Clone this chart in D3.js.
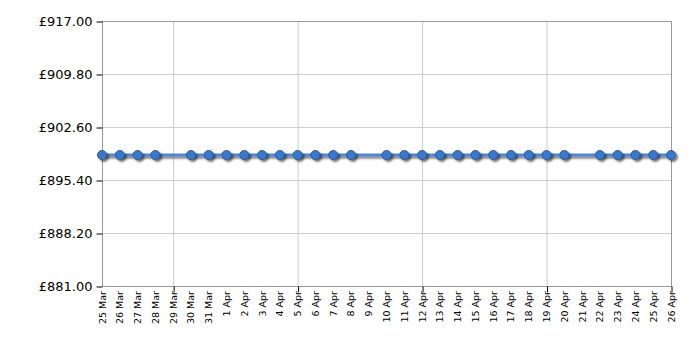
<!DOCTYPE html>
<html>
<head>
<meta charset="utf-8">
<script src="https://cdn.jsdelivr.net/npm/d3@7"></script>
<style>
  body { margin: 0; background: #fff; }
  svg { display: block; font-family: "DejaVu Sans", Verdana, sans-serif; }
</style>
</head>
<body>
<div id="chart"></div>
<script>
// price history, one entry per day (null = no reading that day)
const dates = ["2024-03-25","2024-03-26","2024-03-27","2024-03-28","2024-03-29","2024-03-30","2024-03-31",
  "2024-04-01","2024-04-02","2024-04-03","2024-04-04","2024-04-05","2024-04-06","2024-04-07","2024-04-08",
  "2024-04-09","2024-04-10","2024-04-11","2024-04-12","2024-04-13","2024-04-14","2024-04-15","2024-04-16",
  "2024-04-17","2024-04-18","2024-04-19","2024-04-20","2024-04-21","2024-04-22","2024-04-23","2024-04-24",
  "2024-04-25","2024-04-26"];
const prices = [898.8, 898.8, 898.8, 898.8, null, 898.8, 898.8,
  898.8, 898.8, 898.8, 898.8, 898.8, 898.8, 898.8, 898.8,
  null, 898.8, 898.8, 898.8, 898.8, 898.8, 898.8, 898.8,
  898.8, 898.8, 898.8, 898.8, null, 898.8, 898.8, 898.8,
  898.8, 898.8];
const yTicks = [881, 888.2, 895.4, 902.6, 909.8, 917];

const width = 700, height = 350;
const margin = {top: 21, right: 29, bottom: 64, left: 102};

const parse = d3.timeParse("%Y-%m-%d");
const data = dates.map((d, i) => ({date: parse(d), price: prices[i]}));
const points = data.filter(d => d.price != null);

const x = d3.scaleTime()
  .domain(d3.extent(data, d => d.date))
  .range([margin.left, width - margin.right]);
const y = d3.scaleLinear()
  .domain([881, 917])
  .range([height - margin.bottom, margin.top]);

const svg = d3.create("svg")
  .attr("width", width)
  .attr("height", height)
  .attr("viewBox", [0, 0, width, height]);

// drop shadow, in user space so a flat line still gets it
const defs = svg.append("defs");
defs.append("filter").attr("id", "shadow")
  .attr("filterUnits", "userSpaceOnUse")
  .attr("x", 0).attr("y", 0).attr("width", width).attr("height", height)
  .call(f => {
    f.append("feGaussianBlur").attr("in", "SourceAlpha").attr("stdDeviation", 1).attr("result", "b");
    f.append("feOffset").attr("in", "b").attr("dx", 2).attr("dy", 2).attr("result", "o");
    f.append("feComponentTransfer").attr("in", "o").attr("result", "s")
      .append("feFuncA").attr("type", "linear").attr("slope", 0.55);
    const m = f.append("feMerge");
    m.append("feMergeNode").attr("in", "s");
    m.append("feMergeNode").attr("in", "SourceGraphic");
  });

// weekly vertical grid lines
const weekTicks = data.filter((d, i) => i % 7 === 4 || i === data.length - 1).map(d => d.date);

svg.append("g")
  .attr("stroke", "#ccc")
  .selectAll("line")
  .data(weekTicks)
  .join("line")
  .attr("x1", d => x(d) + 0.5).attr("x2", d => x(d) + 0.5)
  .attr("y1", margin.top).attr("y2", height - margin.bottom);

svg.append("g")
  .attr("stroke", "#ccc")
  .selectAll("line")
  .data(yTicks)
  .join("line")
  .attr("x1", margin.left).attr("x2", width - margin.right)
  .attr("y1", d => Math.round(y(d)) + 0.5).attr("y2", d => Math.round(y(d)) + 0.5);

// frame
svg.append("rect")
  .attr("x", margin.left + 0.5).attr("y", margin.top + 0.5)
  .attr("width", width - margin.left - margin.right)
  .attr("height", height - margin.top - margin.bottom)
  .attr("fill", "none").attr("stroke", "#999");

// y axis
const yAxis = svg.append("g")
  .attr("transform", `translate(${margin.left + 0.5},0.5)`)
  .call(d3.axisLeft(y).tickValues(yTicks).tickFormat(d => "£" + d3.format(".2f")(d)).tickSize(6).tickPadding(4));
yAxis.select(".domain").remove();
yAxis.selectAll(".tick line").attr("stroke", "#000");
yAxis.selectAll(".tick text").attr("font-size", 13).attr("fill", "#000")
  .attr("font-family", "\"DejaVu Sans\", Verdana, sans-serif");

// x axis: ticks only on weekly marks, labels on every day
const xAxis = svg.append("g")
  .attr("transform", `translate(0.5,${height - margin.bottom + 0.5})`)
  .call(d3.axisBottom(x).tickValues(weekTicks).tickFormat("").tickSize(6));
xAxis.select(".domain").remove();
xAxis.selectAll(".tick line").attr("stroke", "#000");

svg.append("g")
  .attr("font-size", 9.5)
  .attr("fill", "#000")
  .selectAll("text")
  .data(data)
  .join("text")
  .attr("transform", d => `translate(${x(d.date) + 3.5},${height - margin.bottom + 5}) rotate(-90)`)
  .attr("text-anchor", "end")
  .text(d => d3.timeFormat("%-d %b")(d.date));

// line and markers
const line = d3.line()
  .x(d => x(d.date))
  .y(d => y(d.price));

svg.append("path")
  .datum(points)
  .attr("fill", "none")
  .attr("stroke", "#4f86cf")
  .attr("stroke-width", 3)
  .attr("filter", "url(#shadow)")
  .attr("d", line);

svg.append("g")
  .attr("filter", "url(#shadow)")
  .selectAll("circle")
  .data(points)
  .join("circle")
  .attr("cx", d => x(d.date))
  .attr("cy", d => y(d.price))
  .attr("r", 4.5)
  .attr("fill", "#3c78c8")
  .attr("stroke", "#2a5d9f")
  .attr("stroke-width", 1);

document.getElementById("chart").append(svg.node());
</script>
</body>
</html>
